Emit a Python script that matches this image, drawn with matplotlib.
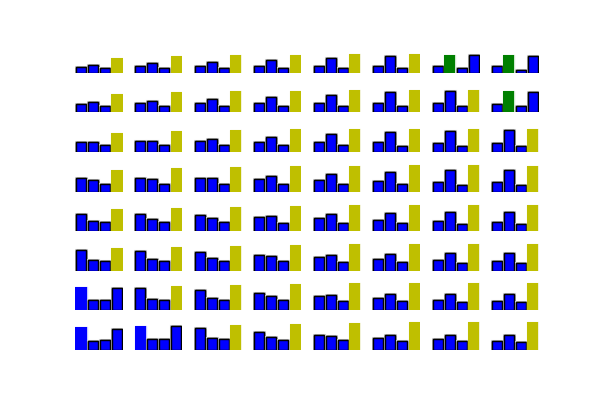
import matplotlib
matplotlib.use("Agg")
import matplotlib.pyplot as plt
import matplotlib.patheffects as pe

# bar heights for each of the 8x8 panels (4 bars each), row by row
row0 = [[5.7, 7.7, 4.7, 15.0], [6.7, 10.0, 4.7, 17.0], [6.7, 10.7, 4.7, 18.0], [6.7, 12.7, 4.7, 18.0],
        [6.7, 15.0, 4.7, 19.0], [6.7, 16.7, 4.7, 19.0], [6.7, 18.0, 4.7, 18.0], [6.7, 18.0, 3.3, 16.7]]
row1 = [[8.3, 10.0, 6.0, 18.3], [9.0, 11.3, 6.3, 20.3], [9.0, 13.3, 6.3, 21.3], [9.0, 15.0, 6.3, 21.3],
        [9.0, 17.3, 6.3, 22.3], [9.0, 20.0, 6.3, 22.3], [9.0, 21.0, 6.3, 22.3], [8.0, 21.3, 6.3, 20.0]]
row2 = [[10.0, 10.0, 6.7, 19.0], [11.0, 11.0, 6.7, 21.0], [11.0, 12.7, 6.7, 22.0], [9.7, 15.0, 6.7, 23.0],
        [9.7, 17.7, 6.7, 23.0], [9.7, 20.0, 5.7, 23.0], [9.0, 20.7, 5.7, 23.0], [9.0, 21.7, 5.7, 23.0]]
row3 = [[14.0, 11.3, 8.0, 21.7], [14.0, 12.3, 8.0, 23.3], [14.0, 14.0, 8.0, 24.3], [13.0, 16.0, 8.0, 25.3],
        [12.0, 18.0, 8.0, 25.3], [11.0, 20.0, 8.0, 26.3], [10.0, 21.3, 7.0, 26.3], [10.0, 21.3, 7.0, 25.3]]
row4 = [[17.0, 10.0, 9.0, 22.3], [17.0, 12.0, 9.0, 23.3], [16.0, 13.0, 9.0, 24.3], [14.0, 15.0, 8.0, 25.3],
        [13.0, 17.0, 8.0, 26.0], [11.0, 18.0, 8.0, 26.0], [10.0, 19.0, 7.0, 26.0], [9.0, 19.0, 7.0, 26.0]]
row5 = [[21.0, 11.0, 10.0, 23.3], [20.0, 12.0, 10.0, 24.3], [19.0, 13.0, 10.0, 25.3], [16.0, 15.0, 10.0, 26.3],
        [14.0, 16.0, 9.0, 27.3], [12.0, 17.0, 9.0, 27.3], [11.0, 18.0, 8.0, 27.3], [10.0, 18.0, 8.0, 27.3]]
row6 = [[23.3, 10.0, 10.0, 22.0], [22.0, 11.0, 10.0, 24.3], [20.0, 12.0, 10.0, 25.3], [17.0, 14.0, 10.0, 26.3],
        [14.0, 15.0, 9.0, 27.3], [12.0, 16.0, 9.0, 27.3], [10.0, 16.0, 8.0, 27.3], [9.0, 16.0, 8.0, 27.3]]
row7 = [[23.3, 9.0, 10.0, 21.3], [24.3, 11.0, 11.0, 24.0], [22.0, 12.0, 11.0, 25.3], [18.0, 13.3, 10.0, 26.3],
        [15.0, 14.0, 10.0, 27.3], [12.0, 15.0, 9.0, 28.0], [11.0, 15.0, 9.0, 28.0], [9.0, 15.0, 8.0, 28.0]]
heights = [row0, row1, row2, row3, row4, row5, row6, row7]

# colour pattern per panel (b=blue, g=green, y=yellow); default pattern and exceptions
default_pattern = "bbby"
pattern_exceptions = {(0, 6): "bgbb", (0, 7): "bgbb", (1, 7): "bgbb",
                      (6, 0): "bbbb", (7, 0): "bbbb", (7, 1): "bbbb"}
# index of the highlighted (edge-less) bar per panel
default_highlight = 3
highlight_exceptions = {(0, 6): 1, (0, 7): 1, (1, 7): 1,
                        (6, 0): 0, (7, 0): 0, (7, 1): 0}

color_map = {"b": "#0000ff", "g": "#008000", "y": "#bfbf00"}
light_edge = {"b": "#c8c8ff", "g": "#d0e8d0", "y": "#f2f2d8"}

fig, axes = plt.subplots(8, 8, figsize=(6, 4), dpi=100)
fig.subplots_adjust(left=0.125, right=0.8983, bottom=0.125, top=0.893,
                    wspace=0.238, hspace=0.32)

for r in range(8):
    for c in range(8):
        ax = axes[r][c]
        vals = heights[r][c]
        pat = pattern_exceptions.get((r, c), default_pattern)
        hi = highlight_exceptions.get((r, c), default_highlight)
        for i, v in enumerate(vals):
            col = color_map[pat[i]]
            if i == hi:
                b = ax.bar(i, v, width=0.92, color=col, linewidth=0)
                for p in b:
                    p.set_path_effects([pe.withStroke(linewidth=1.0, foreground=light_edge[pat[i]]),
                                        pe.Normal()])
            else:
                b = ax.bar(i, v, width=0.84, color=col, edgecolor="black",
                           linewidth=1.0)
                for p in b:
                    p.set_path_effects([pe.withStroke(linewidth=2.2, foreground="#cfcfcf"),
                                        pe.Normal()])
        ax.set_xlim(-0.5, 3.5)
        ax.set_ylim(0, 30.1)
        ax.axis("off")

fig.savefig("out.png", dpi=100)
